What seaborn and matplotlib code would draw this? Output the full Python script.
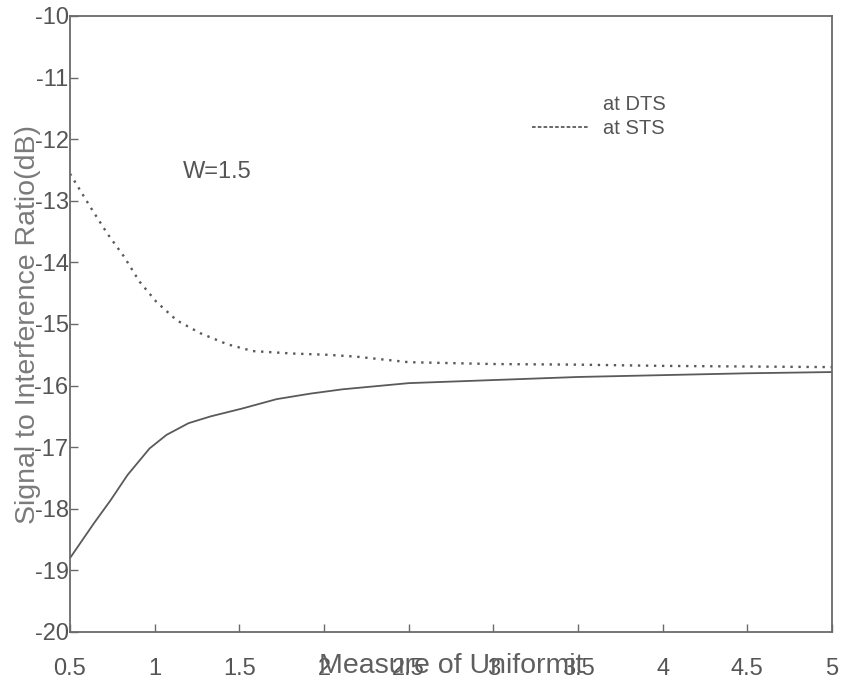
import matplotlib
matplotlib.use("Agg")
import matplotlib.pyplot as plt
import seaborn as sns
import pandas as pd
from matplotlib.lines import Line2D

# ---- data ----
x_dts = [0.5, 0.64, 0.74, 0.84, 0.97, 1.07, 1.2, 1.33, 1.52, 1.72, 1.92, 2.11,
         2.5, 3.0, 3.5, 4.0, 4.5, 5.0]
y_dts = [-18.80, -18.24, -17.86, -17.45, -17.02, -16.80, -16.61, -16.50, -16.37,
         -16.22, -16.13, -16.06, -15.96, -15.91, -15.86, -15.83, -15.80, -15.78]

x_sts = [0.5, 0.62, 0.72, 0.82, 0.91, 1.01, 1.13, 1.27, 1.43, 1.58, 1.82, 2.02,
         2.19, 2.5, 3.0, 3.5, 4.0, 4.5, 5.0]
y_sts = [-12.56, -13.10, -13.53, -13.91, -14.31, -14.64, -14.94, -15.15, -15.33,
         -15.44, -15.48, -15.50, -15.53, -15.62, -15.65, -15.66, -15.68, -15.69, -15.70]

series_labels = ["at DTS", "at STS"]
x_ticks = [0.5, 1, 1.5, 2, 2.5, 3, 3.5, 4, 4.5, 5]
x_tick_labels = ["0.5", "1", "1.5", "2", "2.5", "3", "3.5", "4", "4.5", "5"]
y_ticks = [-10, -11, -12, -13, -14, -15, -16, -17, -18, -19, -20]
y_tick_labels = [str(v) for v in y_ticks]
annotation = "W=1.5"
x_label = "Measure of Uniformit"
y_label = "Signal to Interference Ratio(dB)"

sns.set_theme(style="white")
plt.rcParams["font.family"] = ["Liberation Sans", "DejaVu Sans"]

LINE = "#5a5a5a"
TXT = "#555555"

fig = plt.figure(figsize=(8.43, 6.81), dpi=100)
ax = fig.add_axes([70 / 843, 1 - 632 / 681, 762 / 843, 616 / 681])

df_dts = pd.DataFrame({"x": x_dts, "y": y_dts})
df_sts = pd.DataFrame({"x": x_sts, "y": y_sts})
sns.lineplot(data=df_dts, x="x", y="y", ax=ax, color=LINE, linewidth=1.3,
             sort=True, estimator=None)
sns.lineplot(data=df_sts, x="x", y="y", ax=ax, color=LINE, linewidth=1.7,
             linestyle=(0, (1, 2.4)), sort=True, estimator=None)

ax.set_xlim(0.5, 5)
ax.set_ylim(-20, -10)
ax.set_xticks(x_ticks)
ax.set_xticklabels(x_tick_labels)
ax.set_yticks(y_ticks)
ax.set_yticklabels(y_tick_labels)

for s in ax.spines.values():
    s.set_color("#6a6a6a")
    s.set_linewidth(1.3)
    s.set_visible(True)

ax.tick_params(axis="x", direction="in", length=6, width=1, color="#6a6a6a",
               labelsize=17, labelcolor=TXT, pad=19, bottom=True, top=False)
ax.tick_params(axis="y", direction="in", length=6, width=1, color="#6a6a6a",
               labelsize=17, labelcolor=TXT, pad=1, left=True, right=False)

ax.set_xlabel(x_label, fontsize=20.5, color="#5f5f5f", va="center")
ax.xaxis.set_label_coords(0.5, -0.056)
ax.set_ylabel(y_label, fontsize=20.5, color="#7a7a7a", va="center")
ax.yaxis.set_label_coords(-0.055, 0.5)

ax.text(1.368, -12.53, annotation, fontsize=17, color=TXT,
        ha="center", va="center")

h_dts = Line2D([], [], color=LINE, linewidth=1.3, alpha=0.0)
h_sts = Line2D([], [], color=LINE, linewidth=1.3, linestyle=(0, (2, 1.2)))
leg = ax.legend([h_dts, h_sts], series_labels, loc="upper left",
                bbox_to_anchor=(0.606, 0.872), frameon=False, fontsize=14.5,
                handlelength=2.8, handletextpad=0.75, labelspacing=0.25,
                borderaxespad=0, borderpad=0)
for t in leg.get_texts():
    t.set_color(TXT)

fig.savefig("out.png", dpi=100)
